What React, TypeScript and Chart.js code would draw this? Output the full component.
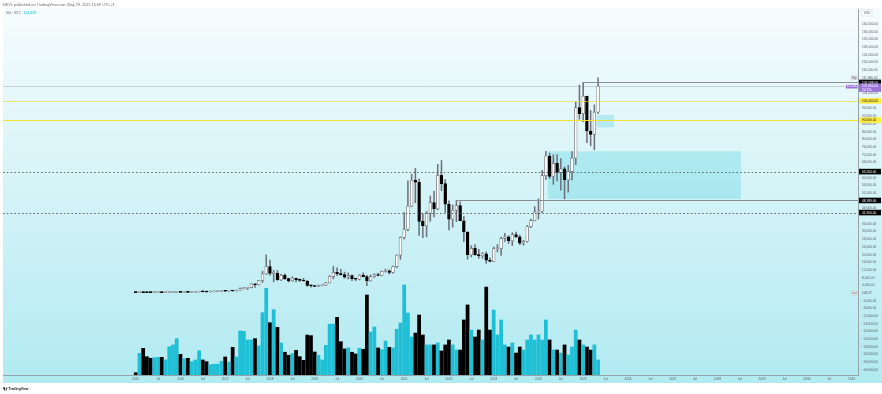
import React, { useEffect, useRef } from 'react';
import { Chart, registerables } from 'chart.js';
Chart.register(...registerables);

// ---- DATA (monthly BTCUSD, Jan 2015 = index 0) ----
const opens = [
  250, 218, 254, 244, 236, 230, 263, 284, 230, 236, 311, 378,
  430, 368, 437, 416, 448, 531, 673, 624, 574, 609, 700, 745,
  963, 960, 1190, 1080, 1350, 2300, 2480, 2875, 4740, 4340, 6450, 10000,
  13860, 10290, 10330, 6930, 9240, 7500, 6400, 7730, 7030, 6625, 6300, 4020,
  3740, 3440, 3820, 4105, 5320, 8570, 10820, 10080, 9590, 8300, 9150, 7550,
  7190, 9350, 8540, 6420, 8630, 9450, 9140, 11340, 11650, 10780, 13800, 19700,
  28990, 33110, 45200, 58800, 57700, 37300, 35040, 41460, 47100, 43820, 61300, 56950,
  46200, 38480, 43160, 45530, 37640, 31800, 19940, 23300, 20050, 19420, 20490, 17170,
  16540, 23130, 23140, 28480, 29250, 27210, 30470, 29230, 25940, 26960, 34650, 37720,
  42280, 42580, 61130, 71330, 60640, 67520, 62760, 64620, 58970, 63330, 70220, 96450,
  93390, 102410, 84350, 82550, 94200,
];
const highs = [
  300, 265, 300, 261, 247, 268, 318, 285, 245, 334, 500, 470,
  464, 445, 440, 470, 550, 780, 705, 624, 630, 740, 750, 975,
  1150, 1200, 1300, 1350, 2760, 3000, 2950, 4980, 4980, 6470, 11400, 19890,
  17200, 11800, 11700, 9800, 10000, 7780, 8500, 7750, 7400, 7680, 6600, 4240,
  4080, 4200, 4140, 5650, 9100, 13880, 13200, 12330, 10950, 10540, 9520, 7750,
  9580, 10500, 9190, 9460, 10080, 10390, 11450, 12480, 12070, 14100, 19900, 29300,
  41950, 58350, 61800, 64850, 59500, 41330, 42400, 50500, 52950, 67000, 69000, 59100,
  47990, 45850, 48190, 47450, 40000, 31980, 24650, 25200, 22800, 21100, 21480, 18400,
  23950, 25250, 29200, 31050, 29850, 31430, 31800, 30200, 27500, 35200, 38450, 45000,
  48970, 63900, 73790, 72800, 71980, 72000, 70000, 65660, 66500, 73620, 99590, 108270,
  109590, 102500, 95000, 97900, 111980,
];
const lows = [
  210, 212, 240, 215, 228, 220, 253, 198, 225, 235, 310, 350,
  350, 365, 394, 413, 436, 515, 600, 480, 570, 605, 680, 740,
  750, 940, 890, 1060, 1340, 2200, 1830, 2700, 2950, 4100, 5500, 9700,
  9200, 5870, 6600, 6430, 7030, 5750, 6070, 5880, 6100, 6200, 3480, 3120,
  3400, 3390, 3760, 4060, 5300, 7440, 9070, 9330, 7730, 7300, 6510, 6430,
  6850, 8460, 3860, 6150, 8100, 8910, 8970, 10950, 9880, 10370, 13200, 17600,
  28100, 32300, 45000, 47000, 30000, 28800, 29300, 37330, 39600, 43300, 53250, 42000,
  32900, 34300, 37150, 37580, 26700, 17600, 18780, 19550, 18150, 18200, 15480, 16250,
  16500, 21400, 19550, 26940, 25810, 24750, 28860, 25160, 24900, 26540, 34100, 37600,
  38500, 41880, 59000, 59600, 56550, 58400, 53500, 49000, 52550, 58900, 66800, 90500,
  89200, 78200, 76600, 74600, 93300,
];
const closes = [
  218, 254, 244, 236, 230, 263, 284, 230, 236, 311, 378, 430,
  368, 437, 416, 448, 531, 673, 624, 574, 609, 700, 745, 963,
  960, 1190, 1080, 1350, 2300, 2480, 2875, 4740, 4340, 6450, 10000, 13860,
  10290, 10330, 6930, 9240, 7500, 6400, 7730, 7030, 6625, 6300, 4020, 3740,
  3440, 3820, 4105, 5320, 8570, 10820, 10080, 9590, 8300, 9150, 7550, 7190,
  9350, 8540, 6420, 8630, 9450, 9140, 11340, 11650, 10780, 13800, 19700, 28990,
  33110, 45200, 58800, 57700, 37300, 35040, 41460, 47100, 43820, 61300, 56950, 46200,
  38480, 43160, 45530, 37640, 31800, 19940, 23300, 20050, 19420, 20490, 17170, 16540,
  23130, 23140, 28480, 29250, 27210, 30470, 29230, 25940, 26960, 34650, 37720, 42280,
  42580, 61130, 71330, 60640, 67520, 62760, 64620, 58970, 63330, 70220, 96450, 93390,
  102410, 84350, 82550, 94200, 107800,
];
// volume in thousands of BTC
const volumesK = [
  18, 166, 204, 140, 128, 132, 135, 135, 115, 216, 230, 278,
  158, 125, 128, 102, 115, 186, 115, 102, 79, 82, 82, 105,
  138, 99, 212, 138, 337, 334, 268, 268, 278, 222, 477, 663,
  400, 500, 365, 245, 174, 151, 163, 189, 140, 112, 306, 301,
  176, 151, 115, 227, 388, 390, 441, 255, 199, 207, 174, 161,
  204, 197, 612, 329, 367, 207, 194, 260, 212, 207, 350, 398,
  689, 474, 291, 321, 459, 306, 230, 230, 230, 245, 184, 230,
  268, 230, 191, 191, 421, 536, 344, 291, 344, 268, 673, 344,
  497, 306, 421, 230, 214, 245, 168, 214, 191, 268, 306, 268,
  306, 268, 421, 268, 191, 191, 168, 230, 153, 214, 344, 268,
  230, 214, 191, 230, 115,
];
const xTickLabels = [
  '2015', 'Jul', '2016', 'Jul', '2017', 'Jul', '2018', 'Jul', '2019', 'Jul', '2020', 'Jul',
  '2021', 'Jul', '2022', 'Jul', '2023', 'Jul', '2024', 'Jul', '2025', 'Jul', '2026', 'Jul',
  '2027', 'Jul', '2028', 'Jul', '2029', 'Jul', '2030', 'Jul', '2031',
];
const yTickValues = Array.from({ length: 46 }, (_, k) => -40000 + k * 4000);
// horizontal levels (price, first month index)
const levelPrices = [109588, 100000, 90000, 63200, 48189, 41900];
const levelStart = [120, -40, -40, -40, 86, -40];
// zones: [start month, end month, top price, bottom price]
const zoneStart = [110.5, 123.6];
const zoneEnd = [162.3, 128.3];
const zoneTop = [73790, 92700];
const zoneBottom = [49000, 86200];
const highPrice = 111980;
const lastPrice = 107800;
const lastVolText = '108.07';
const volLegend = '114.81K';

// ---- STYLES ----
const levelColor = ['#8a8d96', 'rgba(240,222,60,0.65)', '#f3df2c', '#4a4a4a', '#8a8d96', '#4a4a4a'];
const levelDash = [false, false, false, true, false, true];
const tagBg = ['#000000', '#ffeb3b', '#ffeb3b', '#000000', '#000000', '#000000'];
const tagFg = ['#ffffff', '#131722', '#131722', '#ffffff', '#ffffff', '#ffffff'];
const FONT = '"Liberation Sans", Arial, sans-serif';
const UP_VOL = '#1fbfd6';
const PURPLE = '#9b72d8';

const fmt = (v: number) =>
  v.toLocaleString('en-US', { minimumFractionDigits: 2, maximumFractionDigits: 2 }).replace('-', '\u2212');

const tagPrices = [highPrice, lastPrice, 0, ...levelPrices];

export default function App() {
  const ref = useRef<HTMLCanvasElement>(null);
  useEffect(() => {
    document.body.style.margin = '0';
    const idx = opens.map((_, i) => i);
    const up = idx.map((i) => closes[i] >= opens[i]);

    const overlay = {
      id: 'overlay',
      beforeDraw(chart: any) {
        const { ctx, width, height } = chart;
        ctx.save();
        ctx.fillStyle = '#ffffff';
        ctx.fillRect(0, 0, width, height);
        const g = ctx.createLinearGradient(0, 8, 0, 383);
        g.addColorStop(0, '#f6fcfd');
        g.addColorStop(1, '#b1eaf1');
        ctx.fillStyle = g;
        ctx.fillRect(3, 8, width - 3, 375);
        ctx.restore();
      },
      beforeDatasetsDraw(chart: any) {
        const { ctx, chartArea: a, scales } = chart;
        const x = scales.x, y = scales.y;
        ctx.save();
        ctx.beginPath();
        ctx.rect(a.left, a.top, a.right - a.left, a.bottom - a.top);
        ctx.clip();
        for (let i = 0; i < zoneStart.length; i++) {
          const x0 = x.getPixelForValue(zoneStart[i]);
          const x1 = x.getPixelForValue(zoneEnd[i]);
          const y0 = y.getPixelForValue(zoneTop[i]);
          const y1 = y.getPixelForValue(zoneBottom[i]);
          ctx.fillStyle = 'rgba(0,188,212,0.2)';
          ctx.fillRect(x0, y0, x1 - x0, y1 - y0);
        }
        ctx.restore();
      },
      afterDatasetsDraw(chart: any) {
        const { ctx, chartArea: a, scales } = chart;
        const x = scales.x, y = scales.y;
        ctx.save();
        ctx.beginPath();
        ctx.rect(a.left, a.top, a.right - a.left, a.bottom - a.top);
        ctx.clip();
        // current price line
        const yl = Math.round(y.getPixelForValue(lastPrice)) + 0.5;
        ctx.strokeStyle = 'rgba(120,123,134,0.3)';
        ctx.lineWidth = 1;
        ctx.beginPath();
        ctx.moveTo(a.left, yl);
        ctx.lineTo(a.right, yl);
        ctx.stroke();
        for (let i = 0; i < levelPrices.length; i++) {
          const yy = Math.round(y.getPixelForValue(levelPrices[i])) + 0.5;
          const x0 = Math.max(a.left, x.getPixelForValue(levelStart[i]));
          ctx.strokeStyle = levelColor[i];
          ctx.lineWidth = levelDash[i] ? 0.8 : 1;
          ctx.setLineDash(levelDash[i] ? [1.6, 2.2] : []);
          ctx.beginPath();
          ctx.moveTo(x0, yy);
          ctx.lineTo(a.right, yy);
          ctx.stroke();
        }
        ctx.restore();
      },
      afterDraw(chart: any) {
        const { ctx, chartArea: a, scales } = chart;
        const y = scales.y;
        const ax = a.right + 1;
        const tagW = 22;
        ctx.save();
        ctx.textBaseline = 'middle';
        ctx.textAlign = 'left';
        const tag = (py: number, bg: string, fg: string, text: string) => {
          ctx.fillStyle = bg;
          ctx.fillRect(ax, py - 2.8, tagW, 5.6);
          ctx.fillStyle = fg;
          ctx.font = `3.2px ${FONT}`;
          ctx.fillText(text, ax + 3, py + 0.2);
        };
        for (let i = 0; i < levelPrices.length; i++) {
          tag(y.getPixelForValue(levelPrices[i]), tagBg[i], tagFg[i], fmt(levelPrices[i]));
        }
        // High label
        const yh = y.getPixelForValue(highPrice);
        ctx.fillStyle = '#eef1f3';
        ctx.strokeStyle = '#c4c8cc';
        ctx.lineWidth = 0.5;
        ctx.fillRect(a.right - 7, yh - 2, 6.5, 4);
        ctx.strokeRect(a.right - 7, yh - 2, 6.5, 4);
        ctx.fillStyle = '#50535e';
        ctx.font = `2.6px ${FONT}`;
        ctx.fillText('High', a.right - 6.3, yh + 0.1);
        ctx.font = `3.2px ${FONT}`;
        ctx.fillText(fmt(highPrice), ax + 3, yh + 0.2);
        // Last label at 0
        const y0 = y.getPixelForValue(0);
        ctx.fillStyle = '#eef1f3';
        ctx.fillRect(a.right - 7, y0 - 2, 6.5, 4);
        ctx.strokeRect(a.right - 7, y0 - 2, 6.5, 4);
        ctx.fillStyle = '#50535e';
        ctx.font = `2.6px ${FONT}`;
        ctx.fillText('Last', a.right - 6.3, y0 + 0.1);
        ctx.font = `3.2px ${FONT}`;
        ctx.fillText(lastVolText, ax + 3, y0 + 0.2);
        // current price tag (purple)
        const yc = y.getPixelForValue(lastPrice);
        ctx.fillStyle = PURPLE;
        ctx.fillRect(ax, yc - 2.5, tagW, 8.5);
        ctx.fillRect(a.right - 12, yc - 1.2, 11.5, 3.8);
        ctx.fillStyle = '#ffffff';
        ctx.font = `3.2px ${FONT}`;
        ctx.fillText(fmt(lastPrice), ax + 3, yc + 0.2);
        ctx.fillText('2d 12h', ax + 3, yc + 4);
        ctx.font = `2.6px ${FONT}`;
        ctx.fillText('BTCUSD', a.right - 11.2, yc + 0.7);
        // USD box
        ctx.fillStyle = '#ffffff';
        ctx.strokeStyle = '#d0d4d8';
        ctx.fillRect(ax + 3, 10, 10, 6);
        ctx.strokeRect(ax + 3, 10, 10, 6);
        ctx.fillStyle = '#50535e';
        ctx.font = `3px ${FONT}`;
        ctx.fillText('USD', ax + 5, 13.2);
        // header
        ctx.font = `3.8px ${FONT}`;
        ctx.fillStyle = '#6a6d78';
        ctx.fillText('NKYL published on TradingView.com, May 29, 2025 15:09 UTC+3', 3, 4.6);
        ctx.font = `3.6px ${FONT}`;
        ctx.fillStyle = '#6a6d78';
        ctx.fillText('Vol \u00b7 BTC', 6, 13);
        const w = ctx.measureText('Vol \u00b7 BTC ').width;
        ctx.fillStyle = '#00bcd4';
        ctx.fillText(volLegend, 6 + w + 1, 13);
        // logo
        ctx.fillStyle = '#131722';
        ctx.fillRect(3, 387.5, 2.2, 1.2);
        ctx.fillRect(3.9, 387.5, 0.9, 3);
        ctx.beginPath();
        ctx.moveTo(5.4, 390.5);
        ctx.lineTo(6.6, 387.5);
        ctx.lineTo(7.5, 387.5);
        ctx.lineTo(6.3, 390.5);
        ctx.closePath();
        ctx.fill();
        ctx.font = `bold 3.4px ${FONT}`;
        ctx.fillText('TradingView', 8.5, 389.2);
        ctx.restore();
      },
    };

    const chart = new Chart(ref.current as HTMLCanvasElement, {
      type: 'bar',
      data: {
        datasets: [
          {
            label: 'Body',
            data: idx.map((i) => ({ x: i, y: [opens[i], closes[i]] })) as any,
            backgroundColor: (c: any) => (up[c.dataIndex] ? '#ffffff' : '#000000'),
            borderColor: (c: any) => (up[c.dataIndex] ? '#6f727c' : '#000000'),
            borderWidth: 0.7,
            borderSkipped: false,
            barThickness: 2.8,
            minBarLength: 1,
            grouped: false,
            order: 0,
            yAxisID: 'y',
          } as any,
          {
            label: 'Wick',
            data: idx.map((i) => ({ x: i, y: [lows[i], highs[i]] })) as any,
            backgroundColor: '#6f727c',
            borderWidth: 0,
            barThickness: 0.9,
            minBarLength: 1,
            grouped: false,
            order: 1,
            yAxisID: 'y',
          } as any,
          {
            label: 'Volume',
            data: idx.map((i) => ({ x: i, y: volumesK[i] })) as any,
            backgroundColor: (c: any) => (up[c.dataIndex] ? UP_VOL : '#000000'),
            borderWidth: 0,
            barThickness: 3.1,
            grouped: false,
            order: 2,
            yAxisID: 'vol',
          } as any,
        ],
      },
      options: {
        responsive: false,
        devicePixelRatio: 1,
        animation: false,
        layout: { padding: { top: 9, left: 3, right: 0, bottom: 11 } },
        plugins: { legend: { display: false }, tooltip: { enabled: false } },
        scales: {
          x: {
            type: 'linear',
            min: -35.59,
            max: 193.7,
            offset: false,
            grid: { display: false, offset: false, drawTicks: false },
            border: { display: true, color: '#97a3a7', width: 1 },
            ticks: {
              autoSkip: false,
              maxRotation: 0,
              padding: 2,
              color: '#5d606b',
              font: { size: 3.2, family: FONT },
              callback: (v: any) => {
                const k = Math.round(Number(v) / 6);
                return xTickLabels[k] ?? '';
              },
            },
            afterBuildTicks: (s: any) => {
              s.ticks = xTickLabels.map((_, k) => ({ value: k * 6 }));
            },
            afterFit: (s: any) => {
              s.height = 8;
            },
          } as any,
          y: {
            type: 'linear',
            position: 'right',
            min: -42608,
            max: 147800,
            grid: { display: false, drawTicks: false },
            border: { display: true, color: '#97a3a7', width: 1 },
            ticks: {
              autoSkip: false,
              padding: 4,
              color: '#5d606b',
              font: { size: 3.2, family: FONT },
              callback: (v: any) => {
                const n = Number(v);
                if (tagPrices.some((p) => Math.abs(p - n) < 1950)) return null;
                return fmt(n);
              },
            },
            afterBuildTicks: (s: any) => {
              s.ticks = yTickValues.map((v) => ({ value: v }));
            },
            afterFit: (s: any) => {
              s.width = 24;
            },
          } as any,
          vol: {
            type: 'linear',
            display: false,
            min: 0,
            max: 2800,
          },
        },
      },
      plugins: [overlay as any],
    });
    return () => chart.destroy();
  }, []);
  return (
    <div style={{ position: 'fixed', left: 0, top: 0, width: 882, height: 394 }}>
      <canvas ref={ref} width={882} height={394} style={{ width: 882, height: 394, display: 'block' }} />
    </div>
  );
}
